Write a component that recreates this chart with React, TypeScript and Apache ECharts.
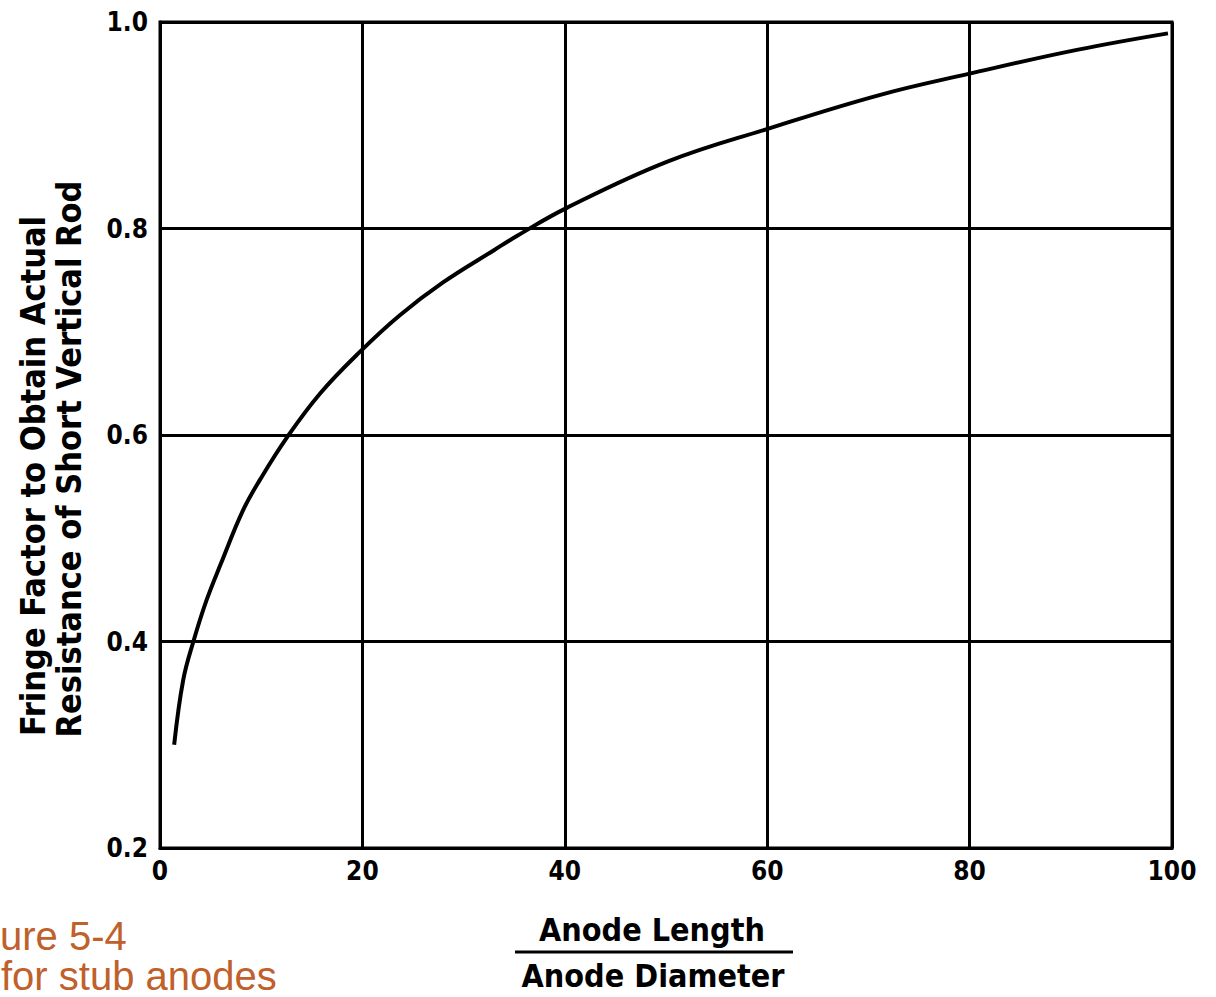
import React, { useEffect, useRef } from "react";
import * as echarts from "echarts";

// Anode length / anode diameter (x) and fringe factor (y)
const anodeRatio = [1.4, 2.3, 3.3, 4.6, 6.0, 8.2, 9.9, 12.5, 15.8, 19.8, 23.7, 28.0, 33.0, 35.3, 40.2, 50.2, 60.2, 71.0, 80.0, 90.6, 99.6];
const fringeFactor = [0.300, 0.363, 0.400, 0.440, 0.475, 0.527, 0.557, 0.597, 0.640, 0.681, 0.716, 0.748, 0.779, 0.793, 0.820, 0.865, 0.897, 0.929, 0.950, 0.973, 0.989];

const xTitleTop = "Anode Length";
const xTitleBottom = "Anode Diameter";
const yTitleLine1 = "Fringe Factor to Obtain Actual";
const yTitleLine2 = "Resistance of Short Vertical Rod";
const captionLine1 = "ure 5-4";
const captionLine2 = "for stub anodes";

const FONT = "'DejaVu Sans Condensed', 'DejaVu Sans', sans-serif";

export default function App() {
  const ref = useRef<HTMLDivElement>(null);
  useEffect(() => {
    if (!ref.current) return;
    const chart = echarts.init(ref.current, undefined, { renderer: "svg" });
    const data = anodeRatio.map((x, i) => [x, fringeFactor[i]]);
    chart.setOption({
      animation: false,
      backgroundColor: "#ffffff",
      grid: {
        left: 160,
        right: 44,
        top: 22,
        bottom: 149,
        show: true,
        borderColor: "#000",
        borderWidth: 3,
        backgroundColor: "transparent",
      },
      xAxis: {
        type: "value",
        min: 0,
        max: 100,
        interval: 20,
        axisLine: { show: true, lineStyle: { color: "#000", width: 3 } },
        axisTick: { show: false },
        splitLine: { show: true, lineStyle: { color: "#000", width: 3 } },
        axisLabel: {
          color: "#000",
          fontSize: 26,
          fontWeight: "bold",
          fontFamily: FONT,
          margin: 10,
        },
      },
      yAxis: {
        type: "value",
        min: 0.2,
        max: 1.0,
        interval: 0.2,
        axisLine: { show: true, lineStyle: { color: "#000", width: 3 } },
        axisTick: { show: false },
        splitLine: { show: true, lineStyle: { color: "#000", width: 3 } },
        axisLabel: {
          color: "#000",
          fontSize: 26,
          fontWeight: "bold",
          fontFamily: FONT,
          margin: 12,
          formatter: (v: number) => v.toFixed(1),
        },
      },
      series: [
        {
          type: "line",
          data,
          smooth: 0.4,
          showSymbol: false,
          symbol: "none",
          lineStyle: { color: "#000", width: 4 },
          z: 5,
        },
      ],
      graphic: [
        {
          type: "text",
          x: 652,
          y: 930,
          style: {
            text: xTitleTop,
            font: `bold 32px ${FONT}`,
            fill: "#000",
            textAlign: "center",
            align: "center",
            textVerticalAlign: "middle",
            verticalAlign: "middle",
          },
        },
        {
          type: "line",
          shape: { x1: 515, y1: 952, x2: 793, y2: 952 },
          style: { stroke: "#000", lineWidth: 3 },
        },
        {
          type: "text",
          x: 653,
          y: 976,
          style: {
            text: xTitleBottom,
            font: `bold 32px ${FONT}`,
            fill: "#000",
            textAlign: "center",
            align: "center",
            textVerticalAlign: "middle",
            verticalAlign: "middle",
          },
        },
        {
          type: "text",
          x: 33,
          y: 476,
          rotation: Math.PI / 2,
          style: {
            text: yTitleLine1,
            font: `bold 34px ${FONT}`,
            fill: "#000",
            textAlign: "center",
            align: "center",
            textVerticalAlign: "middle",
            verticalAlign: "middle",
          },
        },
        {
          type: "text",
          x: 69,
          y: 459,
          rotation: Math.PI / 2,
          style: {
            text: yTitleLine2,
            font: `bold 34px ${FONT}`,
            fill: "#000",
            textAlign: "center",
            align: "center",
            textVerticalAlign: "middle",
            verticalAlign: "middle",
          },
        },
        {
          type: "text",
          x: 0,
          y: 936,
          style: {
            text: captionLine1,
            font: `40px 'Liberation Sans', Arial, sans-serif`,
            fill: "#C0602B",
            textAlign: "left",
            align: "left",
            textVerticalAlign: "middle",
            verticalAlign: "middle",
          },
        },
        {
          type: "text",
          x: 1,
          y: 976,
          style: {
            text: captionLine2,
            font: `40px 'Liberation Sans', Arial, sans-serif`,
            fill: "#C0602B",
            textAlign: "left",
            align: "left",
            textVerticalAlign: "middle",
            verticalAlign: "middle",
          },
        },
      ],
    });
    return () => chart.dispose();
  }, []);
  return (
    <div
      ref={ref}
      style={{ position: "fixed", left: 0, top: 0, width: 1216, height: 997, background: "#fff" }}
    />
  );
}
